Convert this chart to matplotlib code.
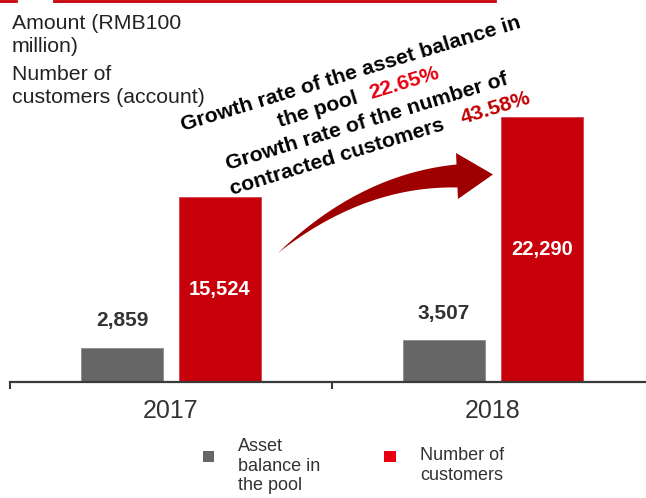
import numpy as np
import matplotlib
matplotlib.use("Agg")
import matplotlib.pyplot as plt
from matplotlib.patches import Rectangle, Polygon
from matplotlib.lines import Line2D

# data
years = ["2017", "2018"]
asset_balance = [2859, 3507]      # RMB100 million
customers = [15524, 22290]        # accounts
asset_labels = ["2,859", "3,507"]
customer_labels = ["15,524", "22,290"]
growth_asset = "22.65%"
growth_customers = "43.58%"

W, H = 646, 498
plt.rcParams['font.family'] = ['Liberation Sans', 'DejaVu Sans']

fig = plt.figure(figsize=(W / 100, H / 100), dpi=100)

def fx(x):
    return x / W

def fy(y):
    return 1 - y / H

GRAY = "#666666"
RED = "#C8000B"
DARK = "#333333"

# axes: baseline at y=382 px, categories spaced 322 px
ax = fig.add_axes([fx(10), fy(382), 644 / W, 382 / H])
ax.set_xlim(-0.5, 1.5)
ax.set_ylim(0, 382 * 84)
x = np.arange(len(years))
ax.bar(x - 0.152, asset_balance, width=0.252, color=GRAY, edgecolor="#8c8c8c", linewidth=0.6)
ax.bar(x + 0.152, customers, width=0.252, color=RED, edgecolor="#d84050", linewidth=0.6)

for i in range(len(years)):
    ax.annotate(asset_labels[i], (x[i] - 0.152, asset_balance[i]), xytext=(0, 27),
                textcoords="offset pixels", ha="center", va="center",
                fontsize=15, fontweight="bold", color=DARK)
    ax.text(x[i] + 0.152, customers[i] / 2, customer_labels[i], ha="center", va="center",
            fontsize=14.5, fontweight="bold", color="white")

for s in ["top", "right", "left"]:
    ax.spines[s].set_visible(False)
ax.spines["bottom"].set_linewidth(1.6)
ax.spines["bottom"].set_color("#3a3a3a")
ax.set_yticks([])
ax.set_xticks(x)
ax.set_xticklabels(years, fontsize=18, color=DARK)
ax.tick_params(axis="x", which="major", length=0, pad=12)
ax.set_xticks([-0.5, 0.5, 1.5], minor=True)
ax.tick_params(axis="x", which="minor", length=5, width=1.5, color="#3a3a3a", direction="out")
ax.patch.set_alpha(0)

# top decorative rule
fig.add_artist(Line2D([fx(0), fx(16)], [fy(1), fy(1)], color=RED, lw=2))
fig.add_artist(Line2D([fx(54), fx(495)], [fy(1), fy(1)], color=RED, lw=2))

# unit text
fig.text(fx(12), fy(14), "Amount (RMB100\nmillion)", ha="left", va="top", fontsize=15.3,
         color="#222222", linespacing=1.25)
fig.text(fx(12), fy(65), "Number of\ncustomers (account)", ha="left", va="top", fontsize=15.3,
         color="#222222", linespacing=1.25)

# curved tapering arrow (pixel coords, y down)
p0 = np.array([278.0, 253.0])
pc = np.array([362.0, 180.0])
p2 = np.array([457.0, 176.0])
t = np.linspace(0, 1, 60)[:, None]
centre = (1 - t) ** 2 * p0 + 2 * (1 - t) * t * pc + t ** 2 * p2
tang = 2 * (1 - t) * (pc - p0) + 2 * t * (p2 - pc)
tang /= np.linalg.norm(tang, axis=1)[:, None]
norm = np.column_stack([tang[:, 1], -tang[:, 0]])
half = 11.5 * t
upper = centre + norm * half
lower = centre - norm * half
d_end, n_end = tang[-1], norm[-1]
head = [p2 + n_end * 23, p2 + d_end * 36, p2 - n_end * 23]
pts = np.vstack([upper, head, lower[::-1]])
pts_fig = np.column_stack([pts[:, 0] / W, 1 - pts[:, 1] / H])
fig.add_artist(Polygon(pts_fig, closed=True, transform=fig.transFigure,
                       facecolor="#9E0000", edgecolor="none"))

# rotated growth annotations
renderer = fig.canvas.get_renderer()
ANG = 17

def rot_line(x0, y0, parts, size=15.3):
    d = 0
    c, s = np.cos(np.radians(ANG)), np.sin(np.radians(ANG))
    for text, color, gap in parts:
        d += gap
        fig.text(fx(x0 + d * c), fy(y0 - d * s), text, rotation=ANG, rotation_mode="anchor",
                 ha="left", va="baseline", fontsize=size, fontweight="bold", color=color)
        tmp = fig.text(0, 0, text, fontsize=size, fontweight="bold")
        d += tmp.get_window_extent(renderer).width
        tmp.remove()

rot_line(183, 131, [("Growth rate of the asset balance in", "black", 0)])
rot_line(280, 127, [("the pool", "black", 0), (growth_asset, "#E60012", 13)])
rot_line(228, 170, [("Growth rate of the number of", "black", 0)])
rot_line(232, 195, [("contracted customers", "black", 0), (growth_customers, "#C00000", 18)])

# legend
fig.add_artist(Rectangle((fx(203), fy(462)), 11 / W, 11 / H, transform=fig.transFigure,
                         color=GRAY, lw=0))
fig.add_artist(Rectangle((fx(384), fy(462)), 12 / W, 11 / H, transform=fig.transFigure,
                         color="#E60012", lw=0))
fig.text(fx(238), fy(438), "Asset\nbalance in\nthe pool", ha="left", va="top", fontsize=13,
         color="#333333", linespacing=1.2)
fig.text(fx(420), fy(447), "Number of\ncustomers", ha="left", va="top", fontsize=13,
         color="#333333", linespacing=1.2)

fig.savefig("out.png", dpi=100)
